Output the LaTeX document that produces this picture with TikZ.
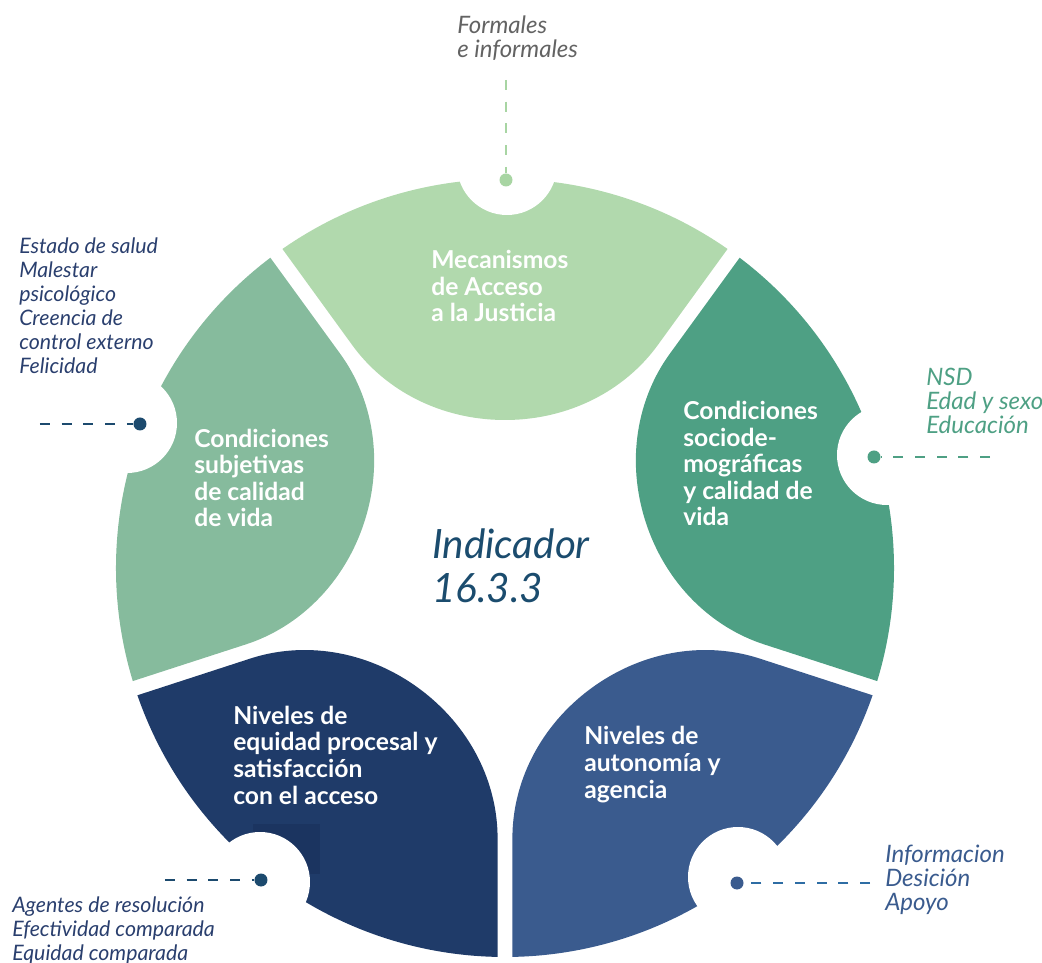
\documentclass[tikz,border=0pt]{standalone}
\usepackage{fontspec}
\setmainfont{Lato}

\definecolor{petalMint}{HTML}{B1D9AD}
\definecolor{petalSage}{HTML}{86BB9D}
\definecolor{petalJade}{HTML}{4EA084}
\definecolor{petalSteel}{HTML}{3A5B8E}
\definecolor{petalNavy}{HTML}{1F3B69}
\definecolor{patchNavy}{HTML}{1B3460}
\definecolor{textGray}{HTML}{636363}
\definecolor{textNavy}{HTML}{2A3F6E}
\definecolor{lineMint}{HTML}{A8D5A3}
\definecolor{lineNavy}{HTML}{1C4A6E}
\definecolor{lineBlue}{HTML}{2E6DA4}
\definecolor{centerBlue}{HTML}{1B4C6E}

\tikzset{
  petaltext/.style={text=white, font=\bfseries\fontsize{18.5}{19.9}\selectfont,
    align=left, anchor=base west, inner sep=0pt},
  listtext/.style={font=\itshape\fontsize{16}{18}\selectfont,
    align=left, anchor=base west, inner sep=0pt},
  biglist/.style={listtext, font=\itshape\fontsize{18}{18}\selectfont},
  enddot/.style={circle, inner sep=0pt, minimum size=9.75pt},
  dashline/.style={line width=1.9pt, dash pattern=on 7.5pt off 8.8pt},
}

\begin{document}
\begin{tikzpicture}[x=0.75pt, y=0.75pt]
    \useasboundingbox (-505,-395) rectangle (537,568);

    % First the five petals round the centre
    \foreach \ang/\col in {0/petalMint, -72/petalJade, -144/petalSteel, -216/petalNavy, -288/petalSage}
        \fill[\col, rotate=\ang] (55.1:389) arc[start angle=55.1, end angle=124.9, radius=389]
            -- (-152.7,222.8) .. controls (-120.4,178.3) and (-65,148) .. (0,148)
            .. controls (65,148) and (120.4,178.3) .. (152.7,222.8) -- cycle;
    \fill[patchNavy] (-252,-256) rectangle (-185,-306);

    % Now the notches cut in the rim
    \fill[white] (2,403) circle (50);
    \fill[white] (382,113) circle (50);
    \fill[white] (233,-309) circle (50);
    \fill[white] (-245,-314) circle (50);
    \fill[white] (-378,145) circle (50);

    % Now the texts on the petals (placed at the baseline of their last line)
    \node[petaltext] (mecanismos) at (-74,246) {Mecanismos\\de Acceso\\a la Justicia};
    \node[petaltext] (subjetivas) at (-311,41) {Condiciones\\subjetivas\\de calidad\\de vida};
    \node[petaltext] (sociodemo) at (178,42) {Condiciones\\sociode-\\mográficas\\y calidad de\\vida};
    \node[petaltext] (equidad) at (-272,-236) {Niveles de\\equidad procesal y\\satisfacción\\con el acceso};
    \node[petaltext] (autonomia) at (79,-230) {Niveles de\\autonomía y\\agencia};

    \node[anchor=base west, inner sep=0pt, align=left, text=centerBlue,
          font=\itshape\fontsize{30.3}{33}\selectfont] (indicador) at (-73,-35) {Indicador\\16.3.3};

    % Now the dots, the dashed leads and their lists
    \node[enddot, fill=lineMint] (dotFormales) at (1,388) {};
    \coordinate (endFormales) at (1,488);
    \draw[dashline, lineMint] (endFormales) -- (dotFormales);
    \node[biglist, text=textGray] (formales) at (-48,510) {Formales\\e informales};

    \node[enddot, fill=lineNavy] (dotSalud) at (-365,144) {};
    \coordinate (endSalud) at (-465,144);
    \draw[dashline, lineNavy] (endSalud) -- (dotSalud);
    \node[listtext, text=textNavy] (salud) at (-486,194)
        {Estado de salud\\Malestar\\psicológico\\Creencia de\\control externo\\Felicidad};

    \node[enddot, fill=petalJade] (dotNsd) at (369,111) {};
    \coordinate (endNsd) at (485,111);
    \draw[dashline, petalJade] (endNsd) -- (dotNsd);
    \node[biglist, text=petalJade] (nsd) at (421,134) {NSD\\Edad y sexo\\Educación};

    \node[enddot, fill=petalSteel] (dotInfo) at (232,-315) {};
    \coordinate (endInfo) at (365,-315);
    \draw[dashline, lineBlue] (endInfo) -- (dotInfo);
    \node[biglist, text=petalSteel] (informacion) at (380,-342) {Informacion\\Desición\\Apoyo};

    \node[enddot, fill=lineNavy] (dotAgentes) at (-244,-312) {};
    \coordinate (endAgentes) at (-340,-312);
    \draw[dashline, lineNavy] (endAgentes) -- (dotAgentes);
    \node[listtext, text=textNavy] (agentes) at (-493,-392)
        {Agentes de resolución\\Efectividad comparada\\Equidad comparada};

\end{tikzpicture}
\end{document}
